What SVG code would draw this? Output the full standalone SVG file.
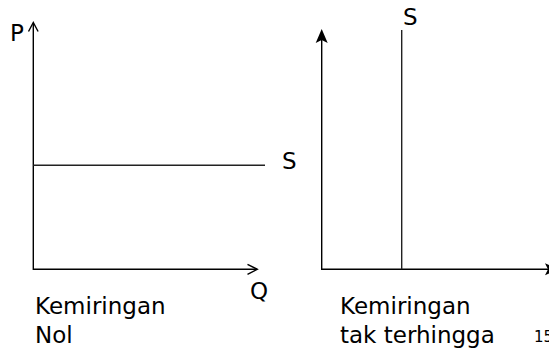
<svg xmlns="http://www.w3.org/2000/svg" width="549" height="349" viewBox="0 0 549 349">
<style>
.ax{stroke:#000;stroke-width:1.4;fill:none}
.ln{stroke:#222;stroke-width:1.4;fill:none}
.t{font-family:"DejaVu Sans",Verdana,sans-serif;font-size:23px;fill:#000}
.s{font-family:"DejaVu Sans",Verdana,sans-serif;font-size:15px;fill:#000}
</style>
<rect width="549" height="349" fill="#fff"/>
<g id="connectors">
<g id="left-axes">
<polyline class="ax" points="33.3,23 33.3,269.3 257,269.3"/>
<polyline class="ax" points="28.5,31.5 33.3,22.5 38.1,31.5"/>
<polyline class="ax" points="247.5,264.3 257.3,269.3 247.5,274.3"/>
</g>
<g id="right-axes">
<polyline class="ax" points="321.7,40 321.7,269.3 548,269.3"/>
<path d="M321.7,29 L327.7,43 L321.7,40 L315.7,43 Z" fill="#000"/>
<path d="M559,269.3 L545,263.3 L548,269.3 L545,275.3 Z" fill="#000"/>
</g>
</g>
<g id="supply-horizontal">
<line class="ln" x1="33.3" y1="165.3" x2="265" y2="165.3"/>
<text class="t" x="282" y="169">S</text>
</g>
<g id="supply-vertical">
<line class="ln" x1="401.7" y1="30" x2="401.7" y2="269.3"/>
<text class="t" x="403" y="25">S</text>
</g>
<g id="labels">
<text class="t" x="10" y="41">P</text>
<text class="t" x="250" y="299">Q</text>
<text class="t" x="35" y="314">Kemiringan</text>
<text class="t" x="35" y="343">Nol</text>
<text class="t" x="340" y="314">Kemiringan</text>
<text class="t" x="340" y="343">tak terhingga</text>
<text class="s" x="534" y="342">15</text>
</g>
</svg>
